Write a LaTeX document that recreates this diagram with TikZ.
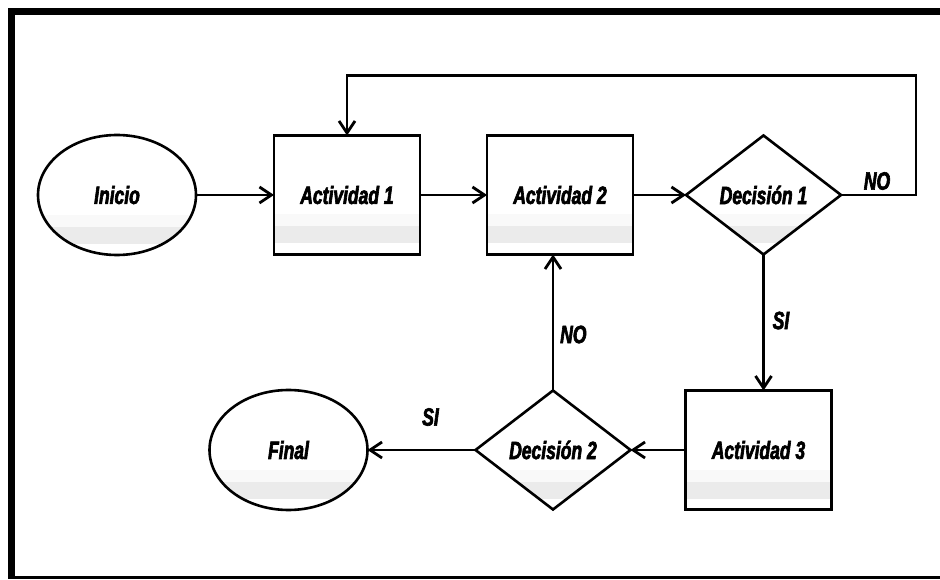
\documentclass[tikz,border=0pt]{standalone}
\usepackage{fontspec}
\newfontfamily\flowfont{Liberation Sans}[FakeStretch=0.70,BoldItalicFeatures={FakeBold=2.5}]
\usetikzlibrary{shapes.geometric,arrows.meta,positioning}

\begin{document}
\begin{tikzpicture}[x=1pt,y=1pt]
\useasboundingbox (0,0) rectangle (940,579);
\begin{scope}

\tikzstyle{band} = [path picture={
  \fill[gray!5] ([yshift=28pt]path picture bounding box.south west) rectangle ([yshift=40pt]path picture bounding box.south east);
  \fill[gray!16] ([yshift=11pt]path picture bounding box.south west) rectangle ([yshift=28pt]path picture bounding box.south east);}];
\tikzstyle{txt} = [font=\flowfont\bfseries\itshape\fontsize{25}{27}\selectfont];
\tikzstyle{term} = [ellipse,draw,line width=2.6pt,minimum width=158pt,minimum height=120pt,inner sep=0pt,outer sep=0pt,band,txt];
\tikzstyle{act} = [rectangle,draw,line width=2.6pt,minimum width=146pt,minimum height=119pt,inner sep=0pt,outer sep=0pt,band,txt];
\tikzstyle{dec} = [diamond,draw,line width=2.6pt,minimum width=155pt,minimum height=119pt,inner sep=0pt,outer sep=0pt,band,txt];
\tikzstyle{lbl} = [txt,inner sep=0pt];
\tikzstyle{arr} = [-{Straight Barb[length=12pt,width=16pt]},line width=2.8pt];

% frame, cut at right and bottom
\fill (8,0) rectangle (15,571);
\fill (8,564) rectangle (940,571);
\fill (8,0) rectangle (940,3);

\node [term] (start) at (117,384) {Inicio};
\node [act,anchor=west] (a1) at ([xshift=78pt]start.east) {Actividad 1};
\node [act,anchor=west] (a2) at ([xshift=67pt]a1.east) {Actividad 2};
\node [dec,anchor=west] (d1) at ([xshift=53pt]a2.east) {Decisión 1};

\node [act,anchor=north] (a3) at ([xshift=-5pt,yshift=-136pt]d1.south) {Actividad 3};
\node [dec,anchor=east] (d2) at ([xshift=-55pt]a3.west) {Decisión 2};
\node [term,anchor=east] (fin) at ([xshift=-108pt]d2.west) {Final};

\draw [arr] (start.east) -- (a1.west);
\draw [arr] (a1.east) -- (a2.west);
\draw [arr] (a2.east) -- (d1.west);
\draw [arr] (d1.east) -- ++(75pt,0) |- ([yshift=60pt]a1.north) -- (a1.north);
\draw [arr] (d1.south) -- (d1.south |- a3.north);
\draw [arr] (a3.west) -- (d2.east);
\draw [arr] (d2.north) -- (d2.north |- a2.south);
\draw [arr] (d2.west) -- (fin.east);

\node [lbl] (no1) at ([xshift=36pt,yshift=14pt]d1.east) {NO};
\node [lbl,anchor=west] (si1) at ([xshift=9pt,yshift=-66pt]d1.south) {SI};
\node [lbl,anchor=west] (no2) at ([xshift=7pt,yshift=56pt]d2.north) {NO};
\node [lbl] (si2) at ([xshift=-45pt,yshift=33pt]d2.west) {SI};

\end{scope}
\end{tikzpicture}
\end{document}
